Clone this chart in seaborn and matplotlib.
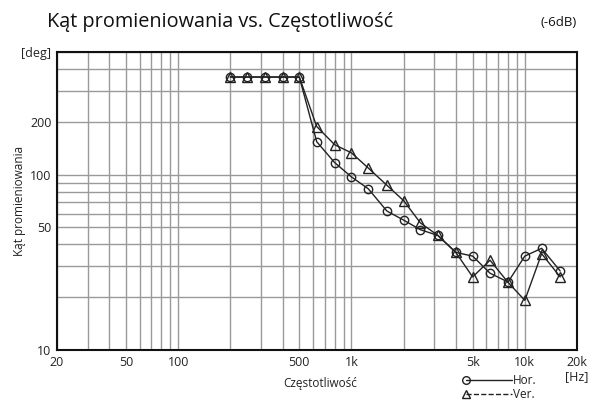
import numpy as np
import pandas as pd
import matplotlib
matplotlib.use("Agg")
import matplotlib.pyplot as plt
from matplotlib.lines import Line2D
from matplotlib.ticker import LogLocator, NullFormatter
import seaborn as sns

# 1/3-octave frequencies [Hz]
freq = [200, 250, 315, 400, 500, 630, 800, 1000, 1250, 1600, 2000, 2500,
        3150, 4000, 5000, 6300, 8000, 10000, 12500, 16000]
# -6dB beam angle [deg]
hor = [360, 360, 360, 360, 360, 154, 117, 97, 83, 62, 55, 48.5,
       45, 36, 34.3, 27.4, 24.4, 34.3, 38, 28.2]
ver = [360, 360, 360, 360, 360, 188, 148, 133, 109, 87, 71, 53,
       45, 36, 26.1, 32.5, 24.3, 19.2, 35.4, 26.1]

x_ticks = [20, 50, 100, 500, 1000, 5000, 10000, 20000]
x_labels = ["20", "50", "100", "500", "1k", "5k", "10k", "20k\n[Hz]"]
y_ticks = [10, 50, 100, 200, 500]
y_labels = ["10", "50", "100", "200", "[deg]"]

df = pd.DataFrame({"freq": freq, "Hor.": hor, "Ver.": ver})

sns.set_style("white")
plt.rcParams["font.family"] = ["Open Sans", "DejaVu Sans"]

fig = plt.figure(figsize=(5.95, 4.0), dpi=100)
ax = fig.add_axes([57 / 595, 1 - 350 / 400, 520 / 595, 298 / 400])

sns.lineplot(data=df, x="freq", y="Hor.", ax=ax, color="#222222", lw=1,
             marker="o", markersize=6, markerfacecolor="none",
             markeredgecolor="#222222", markeredgewidth=1)
sns.lineplot(data=df, x="freq", y="Ver.", ax=ax, color="#222222", lw=1,
             marker="^", markersize=6.5, markerfacecolor="none",
             markeredgecolor="#222222", markeredgewidth=1)

ax.set_xscale("log")
ax.set_yscale("log")
ax.set_xlim(20, 20000)
ax.set_ylim(10, 500)

ax.set_xticks(x_ticks)
ax.set_xticklabels(x_labels)
ax.set_yticks(y_ticks)
ax.set_yticklabels(y_labels)
ax.xaxis.set_minor_locator(LogLocator(base=10, subs=np.arange(1, 10)))
ax.yaxis.set_minor_locator(LogLocator(base=10, subs=np.arange(1, 10)))
ax.xaxis.set_minor_formatter(NullFormatter())
ax.yaxis.set_minor_formatter(NullFormatter())
ax.grid(True, which="both", color="#9a9a9a", lw=1)
ax.tick_params(which="both", length=0, labelsize=9, colors="#222222", pad=4)
for s in ax.spines.values():
    s.set_color("#111111")
    s.set_linewidth(1.5)

ax.set_xlabel("Częstotliwość", fontsize=8.5, color="#222222")
ax.set_ylabel("Kąt promieniowania", fontsize=8.5, color="#222222")
ax.xaxis.set_label_coords((320 - 57) / 520, -(383 - 350) / 298)
ax.yaxis.set_label_coords(-(57 - 19) / 520, 0.5)
ax.xaxis.label.set_va("center")
ax.yaxis.label.set_va("center")
if ax.get_legend():
    ax.get_legend().remove()

fig.text(47 / 595, 1 - 22 / 400, "Kąt promieniowania vs. Częstotliwość",
         fontsize=14.3, va="center", ha="left", color="#111111")
fig.text(577 / 595, 1 - 23 / 400, "(-6dB)", fontsize=9.5, va="center",
         ha="right", color="#111111")

# legend drawn below the axes, marker at the left end of the line
for yy, mk, ls, lab in [(380, "o", "-", "Hor."), (394, "^", "--", "Ver.")]:
    fy = 1 - yy / 400
    fig.add_artist(Line2D([466 / 595, 512 / 595], [fy, fy], color="#222222",
                          lw=1, ls=ls, transform=fig.transFigure))
    fig.add_artist(Line2D([466 / 595], [fy], marker=mk, markersize=5.5,
                          markerfacecolor="none", markeredgecolor="#222222",
                          transform=fig.transFigure))
    fig.text(513 / 595, fy, lab, fontsize=8.5, va="center", ha="left",
             color="#222222")

fig.savefig("out.png", dpi=100)
